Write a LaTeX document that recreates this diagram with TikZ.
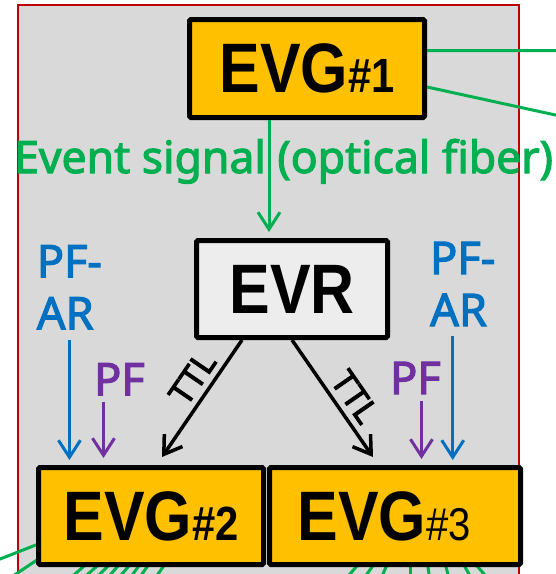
\documentclass[tikz,border=0pt]{standalone}
\usepackage{fontspec}
\setmainfont{Noto Sans}
\newfontfamily\lblfont[FakeBold=2.5]{Noto Sans}
\newfontfamily\ttlfont[FakeBold=3]{Noto Sans}
\newfontfamily\boxfont[FakeStretch=0.87]{Liberation Sans}
\usetikzlibrary{arrows.meta}

\definecolor{evgyellow}{HTML}{FFC000}
\definecolor{evrgray}{HTML}{EDEDED}
\definecolor{panelgray}{HTML}{D9D9D9}
\definecolor{panelred}{HTML}{C00000}
\definecolor{fibergreen}{HTML}{00B050}
\definecolor{arblue}{HTML}{0070C0}
\definecolor{pfpurple}{HTML}{7030A0}

\begin{document}
\begin{tikzpicture}[x=1pt, y=-1pt,
	evgbox/.style={draw=black, line width=5pt, rounded corners=1.5pt, inner sep=0pt,
		font=\boxfont\bfseries\fontsize{70}{70}\selectfont},
	fiber/.style={fibergreen, line width=3pt},
	sigtip/.style={-{Straight Barb[length=17pt,width=22pt]}},
	lbl/.style={inner sep=0pt, align=left, font=\lblfont\fontsize{45}{52}\selectfont},
	ttl/.style={black, line width=3.5pt, sigtip},
	ttltext/.style={sloped, above=4pt, inner sep=2pt, font=\ttlfont\fontsize{33}{33}\selectfont}]
	
	% Panel
	\useasboundingbox (0,0) rectangle (556,574);
	\clip (0,0) rectangle (556,574);
	\fill[panelgray] (18,5) rectangle (519,580);
	\draw[panelred, line width=1.5pt] (18,580) |- (519,5) -- (519,580);
	
	% Boxes
	\node[evgbox, fill=evgyellow, minimum width=235pt, minimum height=98pt] (evg1) at (307,68.5)
		{EVG{\fontsize{48}{48}\selectfont\#1}};
	\node[evgbox, fill=evrgray, minimum width=191pt, minimum height=97pt] (evr) at (292,289) {EVR};
	
	% Fibers leaving the panel
	\coordinate (outA) at (560,50.7);
	\coordinate (outB) at (560,116);
	\draw[fiber] ([yshift=18pt]evg1.east) -- (outA);
	\draw[fiber] ([yshift=-18.5pt]evg1.east) -- (outB);
	
	\draw[fiber] (46,541) -- (-5,561);
	\draw[fiber] (46,554) -- (10,578);
	\foreach \a/\b in {91/67, 104/80, 114/93, 123/105, 134/116, 143/128, 152/137, 168/153}
	\draw[fiber] (\a,560) -- (\b,581);
	\foreach \a/\b in {362/344, 377/362, 389/380, 410/410, 427/430, 444/450, 461/473, 472/490}
	\draw[fiber] (\a,560) -- (\b,581);
	
	\node[evgbox, fill=evgyellow, minimum width=225pt, minimum height=97pt] (evg2) at (151,516)
		{EVG{\fontsize{48}{48}\selectfont\#2}};
	\node[evgbox, fill=evgyellow, minimum width=251pt, minimum height=97pt] (evg3) at (395,516)
		{EVG{\mdseries\fontsize{46}{46}\selectfont\#3}\hspace*{22pt}};
	
	% Event signal
	\node[fibergreen, inner sep=0pt, anchor=base west, font=\lblfont\fontsize{44.5}{44}\selectfont] (sig) at (14,173)
		{Event signal (optical fiber)};
	\draw[fiber, sigtip, shorten >=6pt] ([xshift=-38pt]evg1.south) -- ([xshift=-38pt]evg1.south |- evr.north);
	
	% Accelerator labels
	\node[lbl, arblue, anchor=north west] (arL) at (36.7,245) {PF-\\AR};
	\node[lbl, pfpurple, anchor=north west] (pfL) at (94,363) {PF};
	\node[lbl, pfpurple, anchor=north west] (pfR) at (390,361.7) {PF};
	\node[lbl, arblue, anchor=north west] (arR) at (430,241.7) {PF-\\AR};
	
	\draw[arblue, line width=3pt, sigtip, shorten <=10pt, shorten >=5pt] (arL.south) -- (arL.south |- evg2.north);
	\draw[pfpurple, line width=3pt, sigtip, shorten <=6pt, shorten >=7pt] ([xshift=-16pt]pfL.south) -- ([xshift=-16pt]pfL.south |- evg2.north);
	\draw[pfpurple, line width=3pt, sigtip, shorten <=7pt, shorten >=6pt] ([xshift=6pt]pfR.south) -- ([xshift=6pt]pfR.south |- evg3.north);
	\draw[arblue, line width=3pt, sigtip, shorten <=10pt, shorten >=5pt] ([xshift=-10pt]arR.south) -- ([xshift=-10pt]arR.south |- evg3.north);
	
	% TTL
	\draw[ttl] ([xshift=-50pt]evr.south) -- node[ttltext, pos=0.42] (ttlL) {TTL}
		([xshift=11pt, yshift=8pt]evg2.north);
	\draw[ttl] (evr.south) -- node[ttltext, pos=0.58] (ttlR) {TTL}
		([xshift=-22pt, yshift=8pt]evg3.north);
	
\end{tikzpicture}
\end{document}
